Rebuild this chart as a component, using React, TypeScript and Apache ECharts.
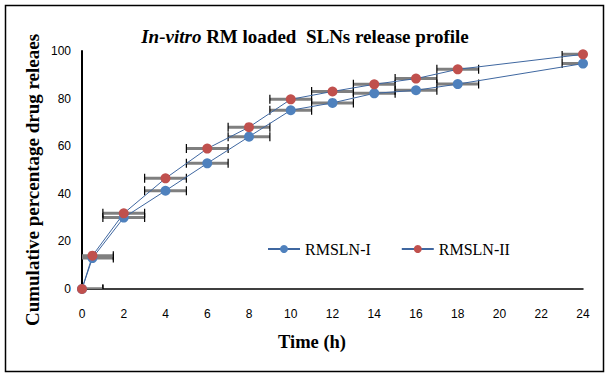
import React, { useEffect, useRef } from "react";
import * as echarts from "echarts";

const times = [0, 0.5, 2, 4, 6, 8, 10, 12, 14, 16, 18, 24];
const rmslnI = [0, 13, 30, 41.3, 52.8, 64, 75.1, 78.2, 82.2, 83.5, 86.1, 94.7];
const rmslnII = [0, 14, 31.8, 46.5, 59, 68, 79.7, 83, 86, 88.4, 92.3, 98.6];
const timeErr = [1, 1, 1, 1, 1, 1, 1, 1, 1, 1, 1, 1];
const seriesNames = ["RMSLN-I", "RMSLN-II"];

const SERIF = "Liberation Serif";
const SANS = "Liberation Sans";

function errorSeries(values: number[]) {
  return {
    type: "custom",
    silent: true,
    clip: true,
    z: 1,
    data: times.map((t, i) => [t, values[i], timeErr[i]]),
    renderItem: (params: any, api: any) => {
      const x = api.value(0);
      const y = api.value(1);
      const e = api.value(2);
      const p1 = api.coord([x - e, y]);
      const p2 = api.coord([x + e, y]);
      const h = 4.5;
      return {
        type: "group",
        children: [
          {
            type: "line",
            shape: { x1: p1[0], y1: p1[1], x2: p2[0], y2: p2[1] },
            style: { stroke: "#7f7f7f", lineWidth: 3 },
          },
          {
            type: "line",
            shape: { x1: p1[0], y1: p1[1] - h, x2: p1[0], y2: p1[1] + h },
            style: { stroke: "#000", lineWidth: 1.2 },
          },
          {
            type: "line",
            shape: { x1: p2[0], y1: p2[1] - h, x2: p2[0], y2: p2[1] + h },
            style: { stroke: "#000", lineWidth: 1.2 },
          },
        ],
      };
    },
  };
}

function lineSeries(name: string, values: number[], color: string) {
  return {
    name,
    type: "line",
    z: 3,
    data: times.map((t, i) => [t, values[i]]),
    symbol: "circle",
    symbolSize: 10,
    showSymbol: true,
    lineStyle: { color: "#3f67a0", width: 1 },
    itemStyle: { color },
    emphasis: { disabled: true },
  };
}

export default function App() {
  const ref = useRef<HTMLDivElement>(null);
  useEffect(() => {
    if (!ref.current) return;
    const chart = echarts.init(ref.current, undefined, { renderer: "svg" });
    chart.setOption({
      animation: false,
      backgroundColor: "#fff",
      title: {
        text: "{i|In-vitro}{b| RM loaded  SLNs release profile}",
        left: 300,
        textAlign: "center",
        top: 22,
        textStyle: {
          fontFamily: SERIF,
          fontSize: 19,
          fontWeight: "bold",
          color: "#000",
          rich: {
            i: { fontFamily: SERIF, fontSize: 19, fontWeight: "bold", fontStyle: "italic", color: "#000" },
            b: { fontFamily: SERIF, fontSize: 19, fontWeight: "bold", color: "#000" },
          },
        },
      },
      legend: {
        data: seriesNames,
        left: 262,
        top: 236,
        itemWidth: 32,
        itemHeight: 10,
        itemGap: 30,
        textStyle: { fontFamily: SERIF, fontSize: 16, color: "#000" },
      },
      grid: { left: 82, right: 27, top: 51, bottom: 89 },
      xAxis: {
        type: "value",
        min: 0,
        max: 24,
        interval: 2,
        axisLine: { show: true, lineStyle: { color: "#000", width: 1.5 } },
        axisTick: { show: false },
        splitLine: { show: false },
        axisLabel: { margin: 19, fontFamily: SANS, fontSize: 12, color: "#000" },
      },
      yAxis: {
        type: "value",
        min: 0,
        max: 100,
        interval: 20,
        axisLine: { show: true, lineStyle: { color: "#000", width: 2 } },
        axisTick: { show: false },
        splitLine: { show: false },
        axisLabel: { margin: 11, fontFamily: SANS, fontSize: 12, color: "#000" },
      },
      graphic: [
        {
          type: "rect",
          shape: { x: 5.5, y: 5.5, width: 598, height: 366 },
          style: { fill: "none", stroke: "#000", lineWidth: 1.5 },
          silent: true,
        },
        {
          type: "text",
          x: 32,
          y: 180,
          rotation: Math.PI / 2,
          style: {
            text: "Cumulative percentage drug releaes",
            font: `bold 19px ${SERIF}`,
            fill: "#000",
            align: "center",
            verticalAlign: "middle",
          },
        },
        {
          type: "text",
          x: 312,
          y: 342,
          style: {
            text: "Time (h)",
            font: `bold 18.5px ${SERIF}`,
            fill: "#000",
            align: "center",
            verticalAlign: "middle",
          },
        },
      ],
      series: [
        errorSeries(rmslnI),
        errorSeries(rmslnII),
        lineSeries(seriesNames[0], rmslnI, "#4f81bd"),
        lineSeries(seriesNames[1], rmslnII, "#c0504d"),
      ],
    });
    return () => chart.dispose();
  }, []);
  return (
    <div
      ref={ref}
      style={{ position: "absolute", left: 0, top: 0, width: 610, height: 378 }}
    />
  );
}
